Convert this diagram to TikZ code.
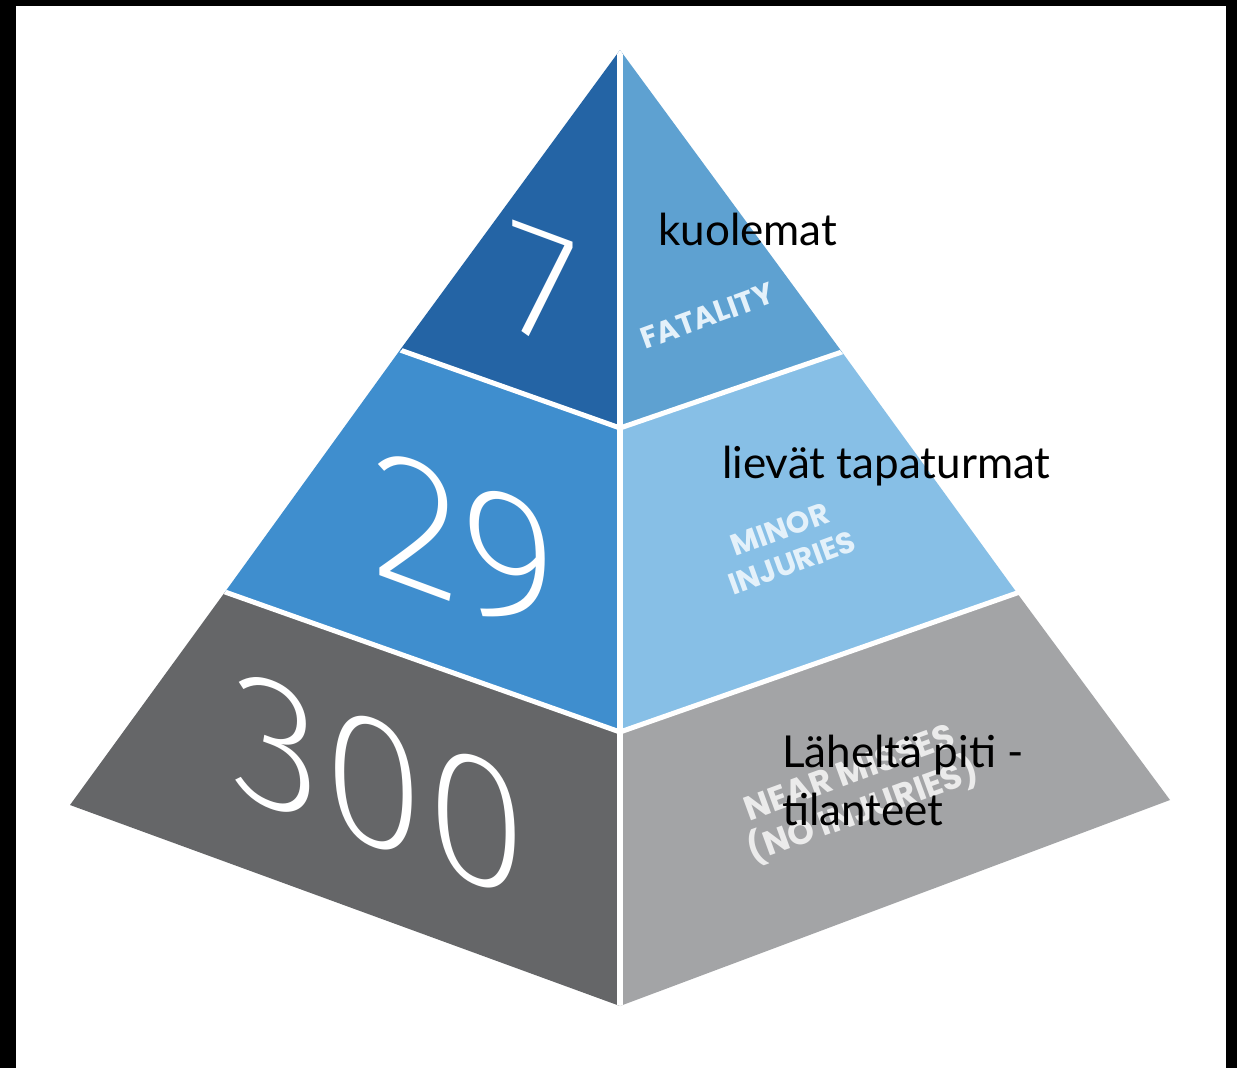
\documentclass[tikz,border=0pt]{standalone}
\usepackage{fontspec}
\setmainfont{Lato}
\newfontfamily\thinfont{Fira Sans}[UprightFont={* ExtraLight}]
\newfontfamily\capsfont{Poppins}
\definecolor{topleft}{HTML}{2464A5}
\definecolor{topright}{HTML}{5EA1D1}
\definecolor{midleft}{HTML}{3F8ECE}
\definecolor{midright}{HTML}{87BFE6}
\definecolor{lowleft}{HTML}{656668}
\definecolor{lowright}{HTML}{A3A4A6}
\definecolor{paleblue}{HTML}{E4F1FA}
\tikzset{
  count/.style={text=white, inner sep=0pt, yslant=-0.37, font=\thinfont},
  tag/.style={text=paleblue, inner sep=0pt, rotate=20, align=center, font=\capsfont\bfseries},
  label/.style={anchor=base west, inner sep=0pt, font=\fontsize{44}{58}\selectfont}
}
\begin{document}
\begin{tikzpicture}[x=1pt,y=1pt]
  \useasboundingbox (0,0) rectangle (1237,-1068);
  \fill[white] (0,0) rectangle (1237,-1068);
  % frame
  \fill[black] (0,0) rectangle (16,-1068);
  \fill[black] (0,0) rectangle (1237,-6);
  \fill[black] (1226,0) rectangle (1237,-1068);
  % corners of the two faces
  \coordinate (apex) at (620,-50);
  \coordinate (l1) at (400,-350);
  \coordinate (l2) at (225,-592);
  \coordinate (l3) at (70,-805);
  \coordinate (r1) at (842,-352);
  \coordinate (r2) at (1017,-593);
  \coordinate (r3) at (1170,-800);
  \coordinate (c1) at (620,-428);
  \coordinate (c2) at (620,-732);
  \coordinate (c3) at (620,-1006);
  % faces
  \fill[topleft] (apex) -- (l1) -- (c1) -- cycle;
  \fill[topright] (apex) -- (r1) -- (c1) -- cycle;
  \fill[midleft] (l1) -- (l2) -- (c2) -- (c1) -- cycle;
  \fill[midright] (r1) -- (r2) -- (c2) -- (c1) -- cycle;
  \fill[lowleft] (l2) -- (l3) -- (c3) -- (c2) -- cycle;
  \fill[lowright] (r2) -- (r3) -- (c3) -- (c2) -- cycle;
  % white gaps
  \begin{scope}
    \clip (apex) -- (l3) -- (c3) -- (r3) -- cycle;
    \draw[white, line width=6pt] ([yshift=20pt]apex) -- ([yshift=-10pt]c3);
    \draw[white, line width=5pt] ([shift={(-10pt,3.55pt)}]l1) -- (c1) -- ([shift={(10pt,3.5pt)}]r1);
    \draw[white, line width=5pt] ([shift={(-10pt,3.55pt)}]l2) -- (c2) -- ([shift={(10pt,3.5pt)}]r2);
  \end{scope}
  % numbers
  \node[count, font=\thinfont\fontsize{165}{165}\selectfont] (fatal) at (543,-287) {7};
  \node[count, font=\thinfont\fontsize{190}{190}\selectfont] (minor) at (464,-544) {29};
  \node[count, font=\thinfont\fontsize{188}{188}\selectfont] (near) at (380,-785) {300};
  % printed tags
  \node[tag, font=\capsfont\bfseries\fontsize{30}{34}\selectfont] (fataltag) at (707,-316) {FATALITY};
  \node[tag, font=\capsfont\bfseries\fontsize{30}{36}\selectfont] (minortag) at (786,-546) {MINOR\\INJURIES};
  \node[tag, text=white!92!black, font=\capsfont\bfseries\fontsize{34}{40}\selectfont] (neartag) at (857,-794) {NEAR MISSES\\(NO INJURIES)};
  % finnish labels
  \node[label] (kuolemat) at (658,-245) {kuolemat};
  \node[label] (lievat) at (722,-478) {lievät tapaturmat};
  \node[label] (lahelta) at (782,-767) {Läheltä piti -};
  \node[label] (tilanteet) at (782,-825) {tilanteet};
\end{tikzpicture}
\end{document}
